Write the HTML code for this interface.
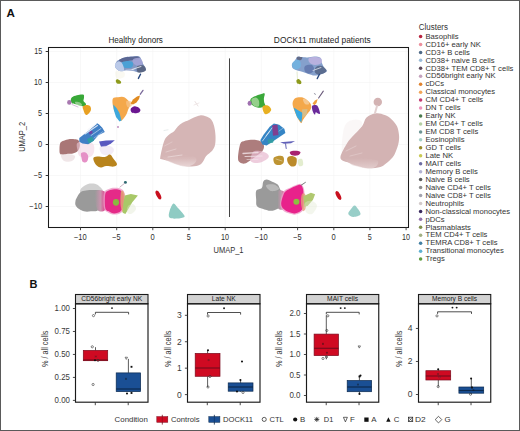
<!DOCTYPE html>
<html><head><meta charset="utf-8"><style>
html,body{margin:0;padding:0;background:#fff;}
svg{display:block;font-family:"Liberation Sans", sans-serif;}
</style></head><body>
<svg width="520" height="431" viewBox="0 0 520 431">
<defs><filter id="bl" x="-10%" y="-10%" width="120%" height="120%"><feGaussianBlur stdDeviation="0.45"/></filter>
<linearGradient id="gpL" gradientUnits="userSpaceOnUse" x1="95" y1="0" x2="106" y2="0"><stop offset="0" stop-color="#9a9a9a"/><stop offset="0.5" stop-color="#c994ae"/><stop offset="1" stop-color="#e03a8c"/></linearGradient>
<linearGradient id="gpR" gradientUnits="userSpaceOnUse" x1="277.5" y1="0" x2="286" y2="0"><stop offset="0" stop-color="#9a9a9a"/><stop offset="0.5" stop-color="#c994ae"/><stop offset="1" stop-color="#e03a8c"/></linearGradient>
<linearGradient id="nbL" gradientUnits="userSpaceOnUse" x1="0" y1="154" x2="0" y2="167"><stop offset="0" stop-color="#d5b5b5" stop-opacity="0"/><stop offset="0.55" stop-color="#e3cccc" stop-opacity="0.85"/><stop offset="1" stop-color="#efe3e3" stop-opacity="0.95"/></linearGradient>
<linearGradient id="nbR" gradientUnits="userSpaceOnUse" x1="0" y1="156" x2="0" y2="169"><stop offset="0" stop-color="#d3b3b3" stop-opacity="0"/><stop offset="0.55" stop-color="#e0c8c8" stop-opacity="0.8"/><stop offset="1" stop-color="#ecdede" stop-opacity="0.9"/></linearGradient>
</defs>
<rect x="0" y="0" width="520" height="431" fill="#fff"/>
<text x="6.6" y="16.5" font-size="11.6" fill="#111" text-anchor="start" font-weight="bold">A</text>
<line x1="80.5" y1="47.5" x2="80.5" y2="227" stroke="#f3f3f3" stroke-width="0.6"/>
<line x1="116.7" y1="47.5" x2="116.7" y2="227" stroke="#f3f3f3" stroke-width="0.6"/>
<line x1="152.8" y1="47.5" x2="152.8" y2="227" stroke="#f3f3f3" stroke-width="0.6"/>
<line x1="189.0" y1="47.5" x2="189.0" y2="227" stroke="#f3f3f3" stroke-width="0.6"/>
<line x1="225.2" y1="47.5" x2="225.2" y2="227" stroke="#f3f3f3" stroke-width="0.6"/>
<line x1="261.4" y1="47.5" x2="261.4" y2="227" stroke="#f3f3f3" stroke-width="0.6"/>
<line x1="297.6" y1="47.5" x2="297.6" y2="227" stroke="#f3f3f3" stroke-width="0.6"/>
<line x1="333.8" y1="47.5" x2="333.8" y2="227" stroke="#f3f3f3" stroke-width="0.6"/>
<line x1="369.9" y1="47.5" x2="369.9" y2="227" stroke="#f3f3f3" stroke-width="0.6"/>
<line x1="406.1" y1="47.5" x2="406.1" y2="227" stroke="#f3f3f3" stroke-width="0.6"/>
<line x1="48.5" y1="51.5" x2="408" y2="51.5" stroke="#f3f3f3" stroke-width="0.6"/>
<line x1="48.5" y1="82.5" x2="408" y2="82.5" stroke="#f3f3f3" stroke-width="0.6"/>
<line x1="48.5" y1="113.5" x2="408" y2="113.5" stroke="#f3f3f3" stroke-width="0.6"/>
<line x1="48.5" y1="144.5" x2="408" y2="144.5" stroke="#f3f3f3" stroke-width="0.6"/>
<line x1="48.5" y1="175.5" x2="408" y2="175.5" stroke="#f3f3f3" stroke-width="0.6"/>
<line x1="48.5" y1="206.5" x2="408" y2="206.5" stroke="#f3f3f3" stroke-width="0.6"/>
<g id="cl">
<path d="M160.2,158.1 C160.3,156.4 161.2,151.9 162.0,148.8 C162.8,145.7 163.7,141.8 164.8,139.5 C165.9,137.2 167.1,136.3 168.6,134.9 C170.1,133.5 172.6,132.6 174.1,131.2 C175.6,129.8 176.4,127.9 177.8,126.5 C179.2,125.1 180.6,123.9 182.5,122.8 C184.4,121.7 187.0,120.9 189.0,120.0 C191.0,119.1 192.7,118.1 194.5,117.3 C196.3,116.5 198.2,115.6 200.1,115.4 C202.0,115.2 203.8,115.6 205.7,116.3 C207.5,117.0 209.8,117.8 211.2,119.5 C212.6,121.2 213.5,123.8 214.2,126.5 C214.9,129.2 215.4,132.7 215.5,135.8 C215.6,138.9 215.6,142.6 215.0,145.1 C214.4,147.6 213.7,148.8 212.2,150.7 C210.7,152.5 207.6,154.3 206.0,156.2 C204.4,158.0 204.2,160.2 202.9,161.8 C201.6,163.4 200.8,164.7 198.2,165.5 C195.6,166.3 190.5,166.6 187.1,166.4 C183.7,166.2 180.9,165.5 177.8,164.6 C174.7,163.7 171.3,161.8 168.6,160.9 C165.9,160.0 162.9,159.7 161.5,159.2 C160.1,158.7 160.1,159.8 160.2,158.1 Z" fill="#d5b5b5" filter="url(#bl)"/>
<path d="M162.0,156.0 C163.2,154.8 170.3,154.1 175.0,154.0 C179.7,153.9 186.5,154.8 190.0,155.5 C193.5,156.2 195.2,156.8 196.0,158.0 C196.8,159.2 196.5,161.6 195.0,163.0 C193.5,164.4 190.0,166.4 187.1,166.7 C184.2,167.0 181.0,165.8 177.8,164.9 C174.6,164.0 170.6,162.7 168.0,161.2 C165.4,159.7 160.8,157.2 162.0,156.0 Z" fill="url(#nbL)" opacity="0.75" filter="url(#bl)"/>
<line x1="166" y1="152" x2="176" y2="149" stroke="#e6d2d2" stroke-width="0.9" stroke-linecap="round" opacity="0.8"/>
<line x1="164.5" y1="146" x2="172" y2="142" stroke="#e6d2d2" stroke-width="0.8" stroke-linecap="round" opacity="0.7"/>
<line x1="168" y1="157" x2="182" y2="155" stroke="#ecdcdc" stroke-width="0.9" stroke-linecap="round" opacity="0.8"/>
<line x1="195" y1="101.5" x2="198" y2="106" stroke="#e8dcdc" stroke-width="0.9" stroke-linecap="round"/>
<line x1="194" y1="105" x2="199" y2="103" stroke="#ece2e2" stroke-width="0.8" stroke-linecap="round"/>
<line x1="164" y1="130.5" x2="168" y2="129.8" stroke="#e4eaea" stroke-width="0.9" stroke-linecap="round"/>
<ellipse cx="158.4" cy="195.0" rx="2.0" ry="4.8" fill="#c80f1e" transform="rotate(-28 158.4 195.0)"/>
<path d="M173.4,203.6 C174.7,203.0 176.0,205.9 177.5,207.5 C179.0,209.1 181.3,211.4 182.5,213.0 C183.7,214.6 185.3,216.1 184.4,217.0 C183.5,217.9 179.5,218.5 177.0,218.6 C174.5,218.7 170.6,218.8 169.4,217.5 C168.2,216.2 168.9,213.3 169.6,211.0 C170.3,208.7 172.1,204.2 173.4,203.6 Z" fill="#8fcbc3" filter="url(#bl)"/>
<path d="M81.5,188.0 C82.7,186.6 85.8,184.7 88.0,184.0 C90.2,183.3 93.0,183.4 94.9,183.8 C96.8,184.2 98.2,185.3 99.5,186.5 C100.8,187.7 103.8,190.2 102.5,191.2 C101.2,192.2 95.6,192.3 92.0,192.5 C88.4,192.7 82.8,193.2 81.0,192.5 C79.2,191.8 80.3,189.4 81.5,188.0 Z" fill="#c6c6c6" opacity="0.8" filter="url(#bl)"/>
<path d="M75.5,200.9 C75.7,199.6 76.1,198.9 76.9,197.5 C77.7,196.1 78.9,193.4 80.4,192.2 C81.9,191.0 83.9,190.9 86.0,190.5 C88.1,190.1 90.7,190.0 93.0,190.0 C95.3,190.0 98.5,189.8 100.0,190.5 C101.5,191.2 102.1,190.9 101.9,194.0 C101.7,197.1 100.8,206.3 99.0,209.2 C97.2,212.1 93.3,211.0 90.8,211.3 C88.3,211.7 86.0,211.8 83.9,211.3 C81.8,210.8 79.7,209.5 78.3,208.5 C76.9,207.5 76.0,206.4 75.5,205.1 C75.0,203.8 75.3,202.2 75.5,200.9 Z" fill="#9a9a9a" filter="url(#bl)"/>
<path d="M95.3,191.0 C96.9,189.6 102.8,190.0 104.6,191.5 C106.4,193.0 105.9,196.9 106.0,200.0 C106.1,203.1 106.3,208.2 105.0,210.0 C103.7,211.8 99.7,212.2 98.0,210.5 C96.3,208.8 95.5,203.2 95.0,200.0 C94.5,196.8 93.7,192.4 95.3,191.0 Z" fill="url(#gpL)" filter="url(#bl)"/>
<path d="M104.0,193.0 C104.8,189.8 107.1,189.9 108.8,189.0 C110.5,188.1 112.3,187.9 114.3,187.8 C116.2,187.7 118.8,187.6 120.5,188.5 C122.2,189.4 123.8,190.2 124.5,193.0 C125.2,195.8 125.0,201.8 124.5,205.1 C124.0,208.3 123.2,210.9 121.5,212.5 C119.8,214.1 116.5,214.6 114.3,214.6 C112.0,214.6 109.7,213.6 108.0,212.5 C106.3,211.4 104.7,211.2 104.0,208.0 C103.3,204.8 103.2,196.2 104.0,193.0 Z" fill="#ee9cc8" opacity="0.8" filter="url(#bl)"/>
<path d="M105.3,194.0 C105.9,191.1 107.3,191.3 108.8,190.5 C110.3,189.7 112.4,189.3 114.3,189.2 C116.2,189.1 118.4,189.1 119.9,189.9 C121.4,190.7 122.7,191.5 123.3,194.0 C123.9,196.5 123.8,202.2 123.3,205.1 C122.8,208.0 122.1,209.9 120.6,211.3 C119.1,212.7 116.3,213.4 114.3,213.4 C112.3,213.4 110.3,212.2 108.8,211.3 C107.3,210.4 105.9,210.8 105.3,207.9 C104.7,205.0 104.7,196.9 105.3,194.0 Z" fill="#e52a88" filter="url(#bl)"/>
<path d="M121.2,191.0 C121.9,189.3 124.0,191.5 124.5,194.0 C125.0,196.5 124.8,203.0 124.5,206.0 C124.2,209.0 123.2,212.3 122.5,212.0 C121.8,211.7 120.7,207.5 120.5,204.0 C120.3,200.5 120.5,192.7 121.2,191.0 Z" fill="#e3a277" opacity="0.85" filter="url(#bl)"/>
<path d="M124.7,195.4 L130.9,194.0 L137.9,195.4 L132.3,202.3 L128.2,209.2 L125.4,214.1 L122.6,212.7 L123.3,203.7 Z" fill="#a8c868" filter="url(#bl)"/>
<path d="M128.0,206.0 C129.0,204.7 131.7,203.5 133.0,204.0 C134.3,204.5 136.3,207.3 136.0,209.0 C135.7,210.7 132.5,213.5 131.0,214.0 C129.5,214.5 127.5,213.3 127.0,212.0 C126.5,210.7 127.0,207.3 128.0,206.0 Z" fill="#dfe8cf" opacity="0.4" filter="url(#bl)"/>
<ellipse cx="116.0" cy="202.3" rx="3.1" ry="3.4" fill="#8ab840"/>
<ellipse cx="125.4" cy="182.4" rx="1.5" ry="1.3" fill="#2d6a72"/>
<line x1="120" y1="187" x2="124.5" y2="183.4" stroke="#b090a8" stroke-width="0.7" stroke-linecap="round"/>
<path d="M59.5,149.4 C59.5,147.7 59.6,145.0 60.1,143.6 C60.6,142.2 61.4,141.8 62.7,141.1 C64.0,140.4 65.9,139.7 67.8,139.4 C69.7,139.1 72.4,139.0 74.2,139.2 C76.0,139.4 77.6,139.3 78.6,140.4 C79.5,141.5 80.0,143.8 79.9,145.5 C79.8,147.2 79.2,149.4 78.0,150.7 C76.8,152.0 74.6,153.0 72.9,153.5 C71.2,154.0 69.3,153.6 67.8,153.8 C66.3,154.0 65.2,154.5 63.9,154.5 C62.6,154.5 60.8,154.7 60.1,153.8 C59.4,153.0 59.5,151.1 59.5,149.4 Z" fill="#a97676" filter="url(#bl)"/>
<path d="M61.0,155.0 C61.7,153.8 65.7,153.8 68.0,154.0 C70.3,154.2 74.3,154.8 75.0,156.0 C75.7,157.2 73.8,160.2 72.0,161.0 C70.2,161.8 65.8,162.0 64.0,161.0 C62.2,160.0 60.3,156.2 61.0,155.0 Z" fill="#dcc3c8" opacity="0.4" filter="url(#bl)"/>
<path d="M77.4,143.0 C78.8,141.6 83.3,141.5 86.0,141.7 C88.7,141.9 92.0,142.3 93.3,144.0 C94.6,145.7 94.5,149.8 94.0,152.0 C93.5,154.2 92.3,156.2 90.0,157.0 C87.7,157.8 82.1,157.7 80.0,156.5 C77.9,155.3 77.9,152.2 77.5,150.0 C77.1,147.8 76.0,144.4 77.4,143.0 Z" fill="#f2d2e2" opacity="0.55" filter="url(#bl)"/>
<path d="M81.2,153.0 C81.9,152.1 84.3,151.9 85.5,152.4 C86.7,152.9 88.0,154.5 88.2,156.0 C88.5,157.5 87.9,160.5 87.0,161.5 C86.1,162.5 83.9,162.7 83.0,162.1 C82.1,161.5 81.8,159.5 81.5,158.0 C81.2,156.5 80.5,153.9 81.2,153.0 Z" fill="#e590c6" filter="url(#bl)"/>
<path d="M79.3,137.9 L84.4,134.0 L90.8,128.9 L97.1,123.2 L99.1,124.5 L102.3,127.7 L104.8,132.1 L98.4,135.3 L93.3,141.1 L88.2,144.3 L82.5,143.6 L79.3,141.7 Z" fill="#3f7fc5" filter="url(#bl)"/>
<path d="M87.0,139.0 L92.0,136.5 L94.0,140.5 L89.0,143.5 Z" fill="#2fa19f" opacity="0.9" filter="url(#bl)"/>
<ellipse cx="90.8" cy="132.5" rx="2.0" ry="1.5" fill="#7a3aa0" transform="rotate(-35 90.8 132.5)" opacity="0.85"/>
<line x1="85" y1="134" x2="97.5" y2="125.5" stroke="#eaf0fa" stroke-width="1.1" stroke-linecap="round" opacity="0.85"/>
<line x1="88" y1="129.5" x2="96" y2="124" stroke="#f4f6fb" stroke-width="1.2" stroke-linecap="round" opacity="0.85"/>
<line x1="91" y1="135.5" x2="101" y2="128.5" stroke="#eaf0fa" stroke-width="0.8" stroke-linecap="round" opacity="0.7"/>
<line x1="94" y1="138" x2="103" y2="131.5" stroke="#eaf0fa" stroke-width="0.7" stroke-linecap="round" opacity="0.6"/>
<path d="M99.0,141.5 L106.0,140.5 L114.8,140.3 L111.0,143.5 L106.0,146.3 L101.0,146.8 Z" fill="#5858c0" filter="url(#bl)"/>
<path d="M100.0,147.0 C101.3,145.7 107.7,145.5 110.0,146.0 C112.3,146.5 114.0,148.5 114.0,150.0 C114.0,151.5 112.0,154.3 110.0,155.0 C108.0,155.7 103.7,155.3 102.0,154.0 C100.3,152.7 98.7,148.3 100.0,147.0 Z" fill="#e0d2ea" opacity="0.4" filter="url(#bl)"/>
<path d="M93.3,158.3 C93.5,156.9 95.2,156.6 97.1,156.4 C99.0,156.2 102.7,157.3 104.8,157.0 C106.9,156.7 108.5,154.3 109.9,154.5 C111.3,154.7 111.9,156.7 113.1,158.3 C114.3,159.9 116.9,162.7 117.0,164.1 C117.1,165.5 115.5,166.3 113.7,166.6 C111.9,166.9 108.2,165.8 106.1,166.0 C104.0,166.2 102.7,167.7 101.0,167.5 C99.3,167.3 97.2,166.2 95.9,164.7 C94.6,163.2 93.1,159.7 93.3,158.3 Z" fill="#b8841c" filter="url(#bl)"/>
<path d="M72.0,97.2 C73.0,96.3 75.0,95.7 76.9,95.2 C78.8,94.8 82.0,94.1 83.2,94.5 C84.4,94.9 84.0,96.6 84.0,97.7 C84.0,98.8 83.2,100.0 83.5,101.0 C83.8,102.0 85.8,103.1 86.0,104.0 C86.2,104.9 85.4,106.1 84.5,106.4 C83.6,106.7 81.9,106.1 80.6,105.8 C79.3,105.5 78.2,105.0 76.9,104.6 C75.6,104.2 73.5,104.3 72.5,103.6 C71.5,102.9 70.9,101.6 70.8,100.5 C70.7,99.4 71.0,98.1 72.0,97.2 Z" fill="#38a838" filter="url(#bl)"/>
<path d="M75.0,102.0 C75.5,101.6 78.8,101.9 80.0,102.5 C81.2,103.1 82.5,105.1 82.0,105.5 C81.5,105.9 78.2,105.6 77.0,105.0 C75.8,104.4 74.5,102.4 75.0,102.0 Z" fill="#c8e4c0" opacity="0.6" filter="url(#bl)"/>
<ellipse cx="69.3" cy="102.4" rx="2.2" ry="2.3" fill="#a878b0"/>
<line x1="72" y1="104.5" x2="78" y2="107" stroke="#d8c0dc" stroke-width="1.0" stroke-linecap="round"/>
<path d="M82.8,106.6 C83.4,105.7 86.0,105.0 87.3,105.1 C88.6,105.1 90.0,105.9 90.6,106.9 C91.1,107.9 91.1,109.7 90.6,111.0 C90.0,112.3 88.2,114.2 87.3,114.7 C86.4,115.2 85.6,114.7 85.0,114.0 C84.4,113.3 83.9,111.5 83.5,110.3 C83.1,109.1 82.2,107.5 82.8,106.6 Z" fill="#e8a020" filter="url(#bl)"/>
<path d="M118.6,60.1 C120.2,59.2 123.3,57.8 125.5,57.2 C127.7,56.6 129.7,56.6 132.0,56.5 C134.3,56.4 137.6,55.4 139.4,56.6 C141.2,57.8 141.8,61.4 142.9,63.6 C144.0,65.8 146.4,68.5 145.8,69.9 C145.2,71.4 141.5,72.1 139.4,72.3 C137.3,72.5 135.2,71.3 133.0,71.0 C130.8,70.7 128.2,70.5 126.0,70.5 C123.8,70.5 121.5,71.7 119.7,71.1 C117.9,70.5 115.7,68.4 115.1,67.0 C114.5,65.6 115.4,63.6 116.0,62.5 C116.6,61.4 117.0,61.0 118.6,60.1 Z" fill="#8398c4" filter="url(#bl)"/>
<path d="M119.0,60.0 C119.6,59.2 123.2,57.8 125.5,57.3 C127.8,56.8 130.8,56.8 133.0,56.7 C135.2,56.6 138.2,56.4 139.0,56.9 C139.8,57.4 139.5,58.9 138.0,59.5 C136.5,60.1 132.7,60.1 130.0,60.5 C127.3,60.9 123.8,62.1 122.0,62.0 C120.2,61.9 118.4,60.8 119.0,60.0 Z" fill="#56628e" opacity="0.9" filter="url(#bl)"/>
<path d="M133.0,59.5 C133.9,58.5 137.9,57.5 139.5,58.0 C141.1,58.5 142.7,61.2 142.8,62.5 C142.9,63.8 141.5,65.8 140.0,66.0 C138.5,66.2 135.2,65.1 134.0,64.0 C132.8,62.9 132.1,60.5 133.0,59.5 Z" fill="#a6a6d8" opacity="0.85" filter="url(#bl)"/>
<path d="M122.0,62.5 C122.8,61.4 127.2,60.9 129.0,61.0 C130.8,61.1 132.6,61.9 133.0,63.0 C133.4,64.1 133.0,66.8 131.5,67.5 C130.0,68.2 125.6,68.3 124.0,67.5 C122.4,66.7 121.2,63.6 122.0,62.5 Z" fill="#42a2d8" opacity="0.85" filter="url(#bl)"/>
<path d="M115.5,63.5 C116.1,62.5 117.8,61.4 119.0,61.5 C120.2,61.6 121.7,62.5 122.5,64.0 C123.3,65.5 124.5,69.3 124.0,70.5 C123.5,71.7 121.1,71.5 119.7,71.0 C118.3,70.5 116.2,68.8 115.5,67.5 C114.8,66.2 114.9,64.5 115.5,63.5 Z" fill="#c2d0ee" opacity="0.9" filter="url(#bl)"/>
<path d="M137.0,66.5 C138.0,65.4 142.0,64.9 143.5,65.5 C145.0,66.1 146.2,68.9 146.0,70.0 C145.8,71.1 143.4,72.0 142.0,72.3 C140.6,72.6 138.3,73.0 137.5,72.0 C136.7,71.0 136.0,67.6 137.0,66.5 Z" fill="#4f5a74" opacity="0.8" filter="url(#bl)"/>
<line x1="132" y1="69.5" x2="141" y2="66.5" stroke="#eef0f6" stroke-width="1.0" stroke-linecap="round" opacity="0.85"/>
<line x1="126" y1="70.2" x2="134" y2="69.8" stroke="#f0f2f8" stroke-width="0.9" stroke-linecap="round" opacity="0.7"/>
<path d="M115.5,71.5 C116.7,70.4 122.6,71.1 124.0,72.0 C125.4,72.9 125.2,75.9 124.0,77.0 C122.8,78.1 118.4,79.4 117.0,78.5 C115.6,77.6 114.3,72.6 115.5,71.5 Z" fill="#f2f0dc" opacity="0.35" filter="url(#bl)"/>
<line x1="138.4" y1="78.4" x2="140.5" y2="74.2" stroke="#2a4a80" stroke-width="1.4" stroke-linecap="round"/>
<path d="M115.8,80.5 C116.0,79.8 117.2,79.2 118.0,79.4 C118.8,79.6 120.5,80.8 120.9,81.5 C121.3,82.2 121.2,83.3 120.5,83.6 C119.8,83.9 117.8,83.9 117.0,83.4 C116.2,82.9 115.6,81.2 115.8,80.5 Z" fill="#8d9a1c" filter="url(#bl)"/>
<path d="M112.8,98.8 C113.6,97.0 116.0,97.4 118.0,97.2 C120.0,97.0 122.8,96.4 124.8,97.5 C126.8,98.6 129.5,101.7 130.0,103.8 C130.5,105.9 128.7,108.1 128.0,110.0 C127.3,111.9 127.1,113.5 125.9,115.3 C124.7,117.1 122.2,120.9 120.7,121.0 C119.2,121.1 118.2,118.2 117.0,116.0 C115.8,113.8 114.1,110.9 113.4,108.0 C112.7,105.1 112.0,100.6 112.8,98.8 Z" fill="#f4a84c" filter="url(#bl)"/>
<path d="M113.2,104.5 L116.5,108.0 L119.5,113.0 L121.5,120.5 L119.5,121.5 L116.0,117.0 L113.8,110.0 Z" fill="#3ea8dc" filter="url(#bl)"/>
<path d="M126.5,101.0 C127.2,100.4 130.1,100.8 131.0,101.5 C131.9,102.2 132.4,104.0 132.0,105.0 C131.6,106.0 129.4,107.5 128.5,107.5 C127.6,107.5 126.8,106.1 126.5,105.0 C126.2,103.9 125.8,101.6 126.5,101.0 Z" fill="#f7c48c" opacity="0.75" filter="url(#bl)"/>
<path d="M130.5,103.5 L133.0,99.5 L137.0,96.5 L140.0,95.5 L139.0,99.0 L136.5,102.5 L133.0,104.5 Z" fill="#e08a20" filter="url(#bl)"/>
<path d="M130.7,109.0 C130.9,108.1 132.3,107.3 133.0,106.8 C133.7,106.3 134.1,106.1 135.0,106.2 C135.9,106.3 137.6,106.9 138.5,107.5 C139.4,108.1 140.3,109.2 140.4,110.0 C140.5,110.8 139.9,111.9 139.0,112.4 C138.1,112.9 136.2,113.2 135.0,113.2 C133.8,113.2 132.2,113.0 131.5,112.3 C130.8,111.6 130.4,109.9 130.7,109.0 Z" fill="#6a1490" filter="url(#bl)"/>
<line x1="140.3" y1="94.2" x2="143" y2="90.4" stroke="#7a6a9a" stroke-width="1.3" stroke-linecap="round"/>
<ellipse cx="118" cy="127" rx="1.0" ry="1.0" fill="#c090c0"/>
</g>
<g id="cr">
<path d="M344.0,128.0 C345.7,122.3 349.0,121.0 352.0,120.0 C355.0,119.0 361.0,119.3 362.0,122.0 C363.0,124.7 360.0,131.3 358.0,136.0 C356.0,140.7 352.7,147.0 350.0,150.0 C347.3,153.0 343.0,157.7 342.0,154.0 C341.0,150.3 342.3,133.7 344.0,128.0 Z" fill="#efe2e2" opacity="0.25" filter="url(#bl)"/>
<path d="M366.5,117.6 C368.8,115.4 372.9,113.7 376.0,113.3 C379.1,112.9 382.2,114.0 384.8,115.0 C387.4,116.0 389.7,117.5 391.7,119.4 C393.7,121.3 395.8,123.7 397.0,126.3 C398.2,128.9 398.7,132.3 399.0,135.0 C399.3,137.7 399.1,140.0 398.6,142.7 C398.1,145.4 397.0,148.5 396.0,151.0 C395.0,153.5 394.2,155.4 392.5,157.5 C390.8,159.6 388.0,161.9 386.0,163.5 C384.0,165.1 383.3,166.1 380.4,166.9 C377.4,167.7 372.0,168.5 368.3,168.3 C364.6,168.2 361.1,166.9 358.0,166.0 C354.9,165.1 352.4,164.2 349.5,162.9 C346.6,161.6 341.1,161.2 340.5,158.2 C339.9,155.2 344.1,148.5 346.0,145.0 C347.9,141.5 349.3,140.1 352.0,137.0 C354.7,133.9 359.7,129.5 362.1,126.3 C364.5,123.1 364.2,119.8 366.5,117.6 Z" fill="#d3b3b3" filter="url(#bl)"/>
<path d="M342.0,156.0 C342.9,155.1 350.3,157.0 355.0,157.5 C359.7,158.0 366.2,158.4 370.0,159.0 C373.8,159.6 377.0,159.8 378.0,161.0 C379.0,162.2 377.6,165.2 376.0,166.5 C374.4,167.8 371.8,168.7 368.3,168.6 C364.8,168.5 358.1,166.9 355.0,166.0 C351.9,165.1 351.7,164.9 349.5,163.2 C347.3,161.5 341.1,156.9 342.0,156.0 Z" fill="url(#nbR)" opacity="0.7" filter="url(#bl)"/>
<line x1="346" y1="151" x2="356" y2="146" stroke="#e6d2d2" stroke-width="0.9" stroke-linecap="round" opacity="0.7"/>
<line x1="350" y1="156" x2="362" y2="153" stroke="#e6d2d2" stroke-width="0.8" stroke-linecap="round" opacity="0.7"/>
<ellipse cx="377.8" cy="102.0" rx="4.2" ry="4.3" fill="#d3b3b3"/>
<line x1="377" y1="106" x2="375" y2="113" stroke="#e2d0d0" stroke-width="2.0" stroke-linecap="round"/>
<ellipse cx="338.4" cy="195.5" rx="2.0" ry="4.8" fill="#c80f1e" transform="rotate(-28 338.4 195.5)"/>
<path d="M354.6,205.4 C355.8,205.4 357.0,207.5 358.0,209.0 C359.0,210.5 361.2,213.3 360.4,214.6 C359.6,215.9 355.4,217.1 353.4,217.0 C351.4,216.9 348.7,215.3 348.3,214.0 C347.9,212.7 349.9,210.4 351.0,209.0 C352.1,207.6 353.4,205.4 354.6,205.4 Z" fill="#98cec8" filter="url(#bl)"/>
<path d="M256.2,190.7 C257.1,188.7 260.6,189.4 261.8,187.9 C263.0,186.4 262.4,183.1 263.2,181.7 C264.0,180.3 265.1,179.6 266.6,179.6 C268.1,179.6 270.4,180.9 272.2,181.7 C274.0,182.5 276.3,183.1 277.7,184.5 C279.1,185.9 279.6,188.6 280.5,190.0 C281.4,191.4 282.6,190.5 283.2,192.8 C283.8,195.1 284.8,201.2 283.9,203.9 C283.0,206.6 279.9,207.5 277.7,208.7 C275.5,209.8 273.3,210.8 270.8,210.8 C268.3,210.8 264.8,209.5 262.5,208.7 C260.2,207.9 257.9,207.4 256.9,205.9 C255.8,204.4 256.3,202.2 256.2,199.7 C256.1,197.2 255.3,192.7 256.2,190.7 Z" fill="#9a9a9a" filter="url(#bl)"/>
<path d="M266.0,185.5 C266.5,184.4 271.8,183.9 274.0,184.5 C276.2,185.1 279.5,187.9 279.0,189.0 C278.5,190.1 273.2,191.6 271.0,191.0 C268.8,190.4 265.5,186.6 266.0,185.5 Z" fill="#cfcfcf" opacity="0.6" filter="url(#bl)"/>
<path d="M278.0,191.5 C279.2,189.1 283.8,190.6 285.0,192.5 C286.2,194.4 285.8,200.2 285.5,203.0 C285.2,205.8 284.3,208.8 283.0,209.5 C281.7,210.2 278.3,210.0 277.5,207.0 C276.7,204.0 276.8,193.9 278.0,191.5 Z" fill="url(#gpR)" filter="url(#bl)"/>
<path d="M283.5,191.5 C285.2,188.8 288.4,188.6 290.5,187.5 C292.6,186.4 294.2,185.6 296.0,185.0 C297.8,184.4 299.7,183.3 301.0,184.0 C302.3,184.7 303.4,186.4 304.0,189.0 C304.6,191.6 304.8,196.1 304.6,199.7 C304.4,203.3 304.5,207.9 303.0,210.4 C301.5,212.9 297.8,213.8 295.7,214.4 C293.6,215.0 292.2,214.4 290.2,213.8 C288.2,213.2 285.3,212.7 283.6,211.0 C281.9,209.3 280.2,207.2 280.2,203.9 C280.2,200.7 281.8,194.2 283.5,191.5 Z" fill="#ee9cc8" opacity="0.8" filter="url(#bl)"/>
<path d="M284.6,192.5 C286.2,189.9 288.6,189.6 290.5,188.5 C292.4,187.4 294.3,186.6 296.0,186.0 C297.7,185.4 299.3,184.5 300.5,185.0 C301.7,185.5 302.5,186.6 303.0,189.0 C303.5,191.4 303.7,196.3 303.5,199.7 C303.3,203.1 303.3,207.2 302.0,209.4 C300.7,211.7 297.7,212.7 295.7,213.2 C293.7,213.7 292.0,213.2 290.2,212.6 C288.4,212.0 286.1,211.2 284.6,209.8 C283.1,208.4 281.2,206.8 281.2,203.9 C281.2,201.0 283.1,195.1 284.6,192.5 Z" fill="#e8218b" filter="url(#bl)"/>
<path d="M302.0,194.0 C302.8,192.7 304.8,192.8 305.5,195.0 C306.2,197.2 306.4,204.3 306.0,207.0 C305.6,209.7 303.8,211.7 303.0,211.0 C302.2,210.3 301.2,205.8 301.0,203.0 C300.8,200.2 301.2,195.3 302.0,194.0 Z" fill="#e5a07c" opacity="0.8" filter="url(#bl)"/>
<path d="M303.3,196.2 L310.9,192.8 L315.1,194.2 L313.0,199.7 L308.2,205.2 L304.7,207.3 Z" fill="#b0c870" filter="url(#bl)"/>
<path d="M305.0,203.0 C306.0,201.2 310.0,200.5 312.0,201.0 C314.0,201.5 317.0,203.8 317.0,206.0 C317.0,208.2 313.8,213.0 312.0,214.0 C310.2,215.0 307.2,213.8 306.0,212.0 C304.8,210.2 304.0,204.8 305.0,203.0 Z" fill="#e2ead4" opacity="0.4" filter="url(#bl)"/>
<ellipse cx="296.4" cy="201.8" rx="3.0" ry="3.0" fill="#8cc040"/>
<line x1="301.2" y1="185.2" x2="305.4" y2="182.4" stroke="#555" stroke-width="0.8" stroke-linecap="round"/>
<path d="M238.0,158.0 C238.0,154.9 239.2,146.9 240.2,144.1 C241.2,141.3 242.4,141.7 244.2,141.0 C245.9,140.3 248.5,139.9 250.7,139.8 C252.9,139.7 255.3,139.8 257.2,140.2 C259.1,140.6 260.9,141.0 262.0,142.0 C263.1,143.0 263.9,144.6 264.0,146.1 C264.1,147.6 263.7,149.4 262.5,151.0 C261.3,152.6 258.9,154.0 257.0,155.5 C255.1,157.0 253.0,158.7 251.0,160.0 C249.0,161.3 246.8,163.1 245.0,163.5 C243.2,163.9 241.2,163.4 240.0,162.5 C238.8,161.6 238.0,161.1 238.0,158.0 Z" fill="#ad7d7d" filter="url(#bl)"/>
<path d="M253.0,152.0 C254.6,150.4 257.7,150.8 260.0,151.0 C262.3,151.2 265.6,152.4 267.0,153.5 C268.4,154.6 269.3,156.1 268.5,157.5 C267.7,158.9 264.2,161.1 262.0,162.0 C259.8,162.9 256.9,163.2 255.0,163.0 C253.1,162.8 250.8,162.3 250.5,160.5 C250.2,158.7 251.4,153.6 253.0,152.0 Z" fill="#e7b9cf" opacity="0.7" filter="url(#bl)"/>
<line x1="243" y1="153.5" x2="258" y2="152.5" stroke="#f3e6ea" stroke-width="1.3" stroke-linecap="round" opacity="0.8"/>
<line x1="245" y1="156.5" x2="262" y2="156" stroke="#f5eaee" stroke-width="1.1" stroke-linecap="round" opacity="0.75"/>
<line x1="247" y1="159.5" x2="258" y2="159.5" stroke="#f3e6ea" stroke-width="0.9" stroke-linecap="round" opacity="0.6"/>
<path d="M260.3,140.3 L263.4,135.1 L269.7,126.8 L273.9,123.6 L279.1,124.7 L284.3,128.8 L285.4,133.0 L279.1,137.2 L272.8,141.4 L266.6,145.5 L262.4,144.5 Z" fill="#3585c5" filter="url(#bl)"/>
<line x1="262.5" y1="141" x2="270" y2="131" stroke="#e8eef8" stroke-width="0.9" stroke-linecap="round" opacity="0.8"/>
<path d="M272.0,125.5 L277.5,124.5 L278.5,135.0 L273.0,135.8 Z" fill="#a0207a" opacity="0.7" filter="url(#bl)"/>
<path d="M267.7,139.5 L274.2,138.9 L273.0,142.8 L268.0,143.5 Z" fill="#30a0a0" opacity="0.85" filter="url(#bl)"/>
<line x1="266" y1="136" x2="272" y2="128" stroke="#e8eef8" stroke-width="0.9" stroke-linecap="round" opacity="0.8"/>
<line x1="279" y1="131" x2="284" y2="127.5" stroke="#e8eef8" stroke-width="0.7" stroke-linecap="round" opacity="0.6"/>
<path d="M280.1,142.2 L295.1,141.0 L291.0,143.2 L284.0,143.8 Z" fill="#6060b8" filter="url(#bl)"/>
<line x1="285.5" y1="143.5" x2="286.2" y2="148.5" stroke="#7070b8" stroke-width="1.1" stroke-linecap="round"/>
<path d="M273.6,158.0 C274.2,156.7 276.4,156.1 278.0,155.9 C279.6,155.7 282.5,155.8 283.4,157.0 C284.3,158.2 284.1,161.7 283.4,163.0 C282.7,164.3 280.5,165.0 279.0,165.1 C277.5,165.2 275.4,164.7 274.5,163.5 C273.6,162.3 273.0,159.3 273.6,158.0 Z" fill="#bd9430" filter="url(#bl)"/>
<path d="M287.3,158.0 C287.8,156.8 289.5,155.9 291.0,155.9 C292.5,155.9 295.6,156.5 296.4,158.0 C297.2,159.5 296.8,163.6 296.0,165.0 C295.2,166.4 292.8,166.7 291.5,166.4 C290.2,166.1 288.7,164.4 288.0,163.0 C287.3,161.6 286.8,159.2 287.3,158.0 Z" fill="#bb8a2c" filter="url(#bl)"/>
<line x1="276" y1="159" x2="282" y2="161" stroke="#efe6d0" stroke-width="0.8" stroke-linecap="round" opacity="0.6"/>
<path d="M289.9,152.0 C290.4,151.2 293.2,150.7 295.0,150.7 C296.8,150.7 299.9,151.2 300.4,152.0 C300.9,152.8 299.4,154.8 298.0,155.3 C296.6,155.9 293.4,155.9 292.0,155.3 C290.6,154.8 289.4,152.8 289.9,152.0 Z" fill="#a82070" filter="url(#bl)"/>
<path d="M298.0,160.0 C298.5,158.8 301.2,158.2 302.0,159.0 C302.8,159.8 303.5,163.8 303.0,165.0 C302.5,166.2 299.8,166.8 299.0,166.0 C298.2,165.2 297.5,161.2 298.0,160.0 Z" fill="#c8dca0" opacity="0.5" filter="url(#bl)"/>
<path d="M251.0,98.5 C252.1,97.2 255.2,96.1 256.8,95.4 C258.4,94.7 259.3,94.6 260.6,94.3 C261.9,94.0 264.1,92.9 264.6,93.6 C265.2,94.3 263.9,96.9 263.9,98.4 C263.8,99.9 264.0,101.5 264.3,102.8 C264.6,104.1 266.0,105.7 265.5,106.5 C265.0,107.3 262.6,107.3 261.3,107.5 C260.0,107.7 258.8,107.8 257.5,107.5 C256.2,107.2 254.7,106.8 253.5,106.0 C252.3,105.2 250.9,104.2 250.5,103.0 C250.1,101.8 249.9,99.8 251.0,98.5 Z" fill="#3aa83a" filter="url(#bl)"/>
<path d="M251.5,99.5 C251.9,98.2 254.8,97.2 256.0,97.5 C257.2,97.8 258.6,99.5 259.0,101.0 C259.4,102.5 259.4,105.8 258.5,106.5 C257.6,107.2 254.7,106.7 253.5,105.5 C252.3,104.3 251.1,100.8 251.5,99.5 Z" fill="#b4dca6" opacity="0.75" filter="url(#bl)"/>
<ellipse cx="249.6" cy="103.2" rx="2.0" ry="2.5" fill="#a070b0"/>
<path d="M262.8,106.2 C263.5,105.3 265.9,105.0 267.2,105.2 C268.5,105.5 269.8,106.8 270.4,107.7 C271.0,108.6 271.4,109.5 271.0,110.5 C270.6,111.5 269.0,113.0 268.0,113.6 C267.0,114.2 265.8,114.5 265.0,114.0 C264.2,113.5 263.4,111.8 263.0,110.5 C262.6,109.2 262.1,107.1 262.8,106.2 Z" fill="#e8b020" filter="url(#bl)"/>
<path d="M292.0,64.1 C292.3,63.1 293.2,62.7 294.2,61.5 C295.1,60.3 296.5,57.5 297.7,56.8 C298.9,56.1 299.6,57.0 301.2,57.1 C302.8,57.2 305.2,57.6 307.4,57.5 C309.6,57.4 312.3,56.5 314.5,56.6 C316.7,56.7 319.4,56.8 320.7,57.9 C321.9,59.0 321.4,61.6 322.0,63.2 C322.6,64.8 323.4,66.4 324.2,67.7 C325.0,69.0 327.5,70.0 326.8,71.2 C326.1,72.4 321.9,74.0 319.8,74.7 C317.8,75.4 316.0,75.6 314.5,75.6 C313.0,75.6 312.5,75.2 311.0,74.7 C309.5,74.2 307.5,73.5 305.7,72.9 C303.9,72.3 302.0,71.7 300.4,71.2 C298.8,70.7 297.2,70.5 295.9,69.9 C294.6,69.3 293.0,68.7 292.4,67.7 C291.8,66.7 291.7,65.1 292.0,64.1 Z" fill="#85a0cc" filter="url(#bl)"/>
<path d="M297.0,57.0 C297.8,56.5 301.3,56.8 302.0,57.3 C302.7,57.8 301.8,59.5 301.0,60.0 C300.2,60.5 298.2,60.5 297.5,60.0 C296.8,59.5 296.2,57.5 297.0,57.0 Z" fill="#5a5f78" opacity="0.8" filter="url(#bl)"/>
<path d="M292.5,63.0 C293.1,61.8 294.8,60.3 296.0,60.0 C297.2,59.7 299.2,59.8 300.0,61.0 C300.8,62.2 301.2,65.6 300.5,67.0 C299.8,68.4 297.3,69.5 296.0,69.5 C294.7,69.5 293.1,68.1 292.5,67.0 C291.9,65.9 291.9,64.2 292.5,63.0 Z" fill="#72b4e2" opacity="0.85" filter="url(#bl)"/>
<path d="M309.0,58.0 C310.1,57.1 314.0,56.9 316.0,57.0 C318.0,57.1 320.1,57.5 321.0,58.5 C321.9,59.5 322.5,61.9 321.5,63.0 C320.5,64.1 317.0,65.1 315.0,65.0 C313.0,64.9 310.5,63.7 309.5,62.5 C308.5,61.3 307.9,58.9 309.0,58.0 Z" fill="#c2b4e2" opacity="0.85" filter="url(#bl)"/>
<path d="M305.0,66.0 C306.2,64.9 310.5,64.3 312.0,65.0 C313.5,65.7 314.3,68.6 314.0,70.0 C313.7,71.4 311.5,73.2 310.0,73.5 C308.5,73.8 305.8,72.8 305.0,71.5 C304.2,70.2 303.8,67.1 305.0,66.0 Z" fill="#5a6ea6" opacity="0.7" filter="url(#bl)"/>
<path d="M316.0,67.0 C317.2,65.9 320.2,65.3 322.0,66.0 C323.8,66.7 326.8,69.6 326.5,71.0 C326.2,72.4 321.9,74.2 320.0,74.5 C318.1,74.8 315.7,73.8 315.0,72.5 C314.3,71.2 314.8,68.1 316.0,67.0 Z" fill="#4d5b7c" opacity="0.75" filter="url(#bl)"/>
<line x1="313" y1="70.5" x2="321" y2="67.5" stroke="#eef0f6" stroke-width="0.9" stroke-linecap="round" opacity="0.8"/>
<line x1="317.2" y1="78.6" x2="319.4" y2="74.4" stroke="#2a4a80" stroke-width="1.3" stroke-linecap="round"/>
<line x1="297" y1="72" x2="297.5" y2="79" stroke="#dfe8c8" stroke-width="1.0" stroke-linecap="round" opacity="0.8"/>
<path d="M296.4,80.5 C296.6,79.8 297.7,78.9 298.5,79.1 C299.3,79.3 300.8,80.7 301.2,81.5 C301.6,82.3 301.4,83.7 300.8,84.0 C300.2,84.3 298.1,84.2 297.4,83.6 C296.7,83.0 296.2,81.2 296.4,80.5 Z" fill="#8d9a1c" filter="url(#bl)"/>
<path d="M293.6,99.9 C294.4,98.7 295.8,98.0 297.3,97.6 C298.8,97.2 301.0,97.0 302.8,97.6 C304.6,98.2 307.0,100.0 308.4,101.3 C309.8,102.6 310.9,104.0 311.2,105.5 C311.5,107.0 311.1,108.5 310.3,110.1 C309.5,111.6 307.9,113.1 306.6,114.8 C305.4,116.5 303.7,118.9 302.8,120.3 C301.9,121.7 301.9,123.6 301.0,123.1 C300.1,122.6 298.4,119.5 297.3,117.5 C296.2,115.5 295.3,113.2 294.5,111.0 C293.7,108.8 292.8,106.4 292.6,104.6 C292.5,102.8 292.8,101.1 293.6,99.9 Z" fill="#f4a84c" filter="url(#bl)"/>
<path d="M303.0,99.0 C303.4,98.4 306.5,99.7 307.5,100.5 C308.5,101.3 309.4,103.4 309.0,104.0 C308.6,104.6 306.0,104.8 305.0,104.0 C304.0,103.2 302.6,99.6 303.0,99.0 Z" fill="#f6cfa0" opacity="0.8" filter="url(#bl)"/>
<path d="M293.6,107.5 L302.8,112.9 L301.3,122.4 L297.0,117.0 Z" fill="#38a8e0" filter="url(#bl)"/>
<path d="M302.0,109.5 L307.5,109.0 L306.6,114.8 L302.5,118.0 Z" fill="#d6c08e" opacity="0.9" filter="url(#bl)"/>
<path d="M312.1,106.0 C312.6,105.0 314.8,104.8 315.8,105.0 C316.8,105.2 317.4,105.6 318.1,106.9 C318.8,108.2 319.9,111.8 320.0,112.9 C320.1,114.1 319.3,113.9 318.6,113.8 C317.9,113.7 316.4,112.1 315.8,112.3 C315.2,112.5 315.4,115.0 314.9,114.8 C314.4,114.6 313.1,112.5 312.6,111.0 C312.1,109.5 311.6,107.0 312.1,106.0 Z" fill="#6a2a9a" filter="url(#bl)"/>
<path d="M312.5,103.5 L315.0,100.5 L317.7,99.0 L316.5,103.0 L314.5,105.2 Z" fill="#f0a040" filter="url(#bl)"/>
<line x1="318.6" y1="98" x2="323.3" y2="91.1" stroke="#6a5a7a" stroke-width="1.1" stroke-linecap="round"/>
<line x1="314.3" y1="93.6" x2="315.5" y2="94.3" stroke="#8a8a9a" stroke-width="0.9" stroke-linecap="round"/>
</g>
<rect x="48.5" y="47.5" width="360" height="180" fill="none" stroke="#1a1a1a" stroke-width="1.05"/>
<line x1="229.5" y1="58.4" x2="229.5" y2="217" stroke="#444" stroke-width="1.0"/>
<text x="135.7" y="42.6" font-size="8.4" fill="#262626" text-anchor="middle" font-weight="normal" textLength="54.5" lengthAdjust="spacingAndGlyphs">Healthy donors</text>
<text x="322.3" y="42.6" font-size="8.4" fill="#262626" text-anchor="middle" font-weight="normal" textLength="96.9" lengthAdjust="spacingAndGlyphs">DOCK11 mutated patients</text>
<line x1="45.7" y1="51.5" x2="48.5" y2="51.5" stroke="#333" stroke-width="1.0"/>
<text x="42.1" y="53.70" font-size="8.5" fill="#2e2e2e" text-anchor="end" font-weight="normal" textLength="7.9" lengthAdjust="spacingAndGlyphs">15</text>
<line x1="45.7" y1="82.5" x2="48.5" y2="82.5" stroke="#333" stroke-width="1.0"/>
<text x="42.1" y="84.70" font-size="8.5" fill="#2e2e2e" text-anchor="end" font-weight="normal" textLength="8.0" lengthAdjust="spacingAndGlyphs">10</text>
<line x1="45.7" y1="113.5" x2="48.5" y2="113.5" stroke="#333" stroke-width="1.0"/>
<text x="42.1" y="115.70" font-size="8.5" fill="#2e2e2e" text-anchor="end" font-weight="normal" textLength="4.0" lengthAdjust="spacingAndGlyphs">5</text>
<line x1="45.7" y1="144.5" x2="48.5" y2="144.5" stroke="#333" stroke-width="1.0"/>
<text x="42.1" y="146.70" font-size="8.5" fill="#2e2e2e" text-anchor="end" font-weight="normal" textLength="4.2" lengthAdjust="spacingAndGlyphs">0</text>
<line x1="45.7" y1="175.5" x2="48.5" y2="175.5" stroke="#333" stroke-width="1.0"/>
<text x="42.1" y="177.70" font-size="8.5" fill="#2e2e2e" text-anchor="end" font-weight="normal" textLength="8.4" lengthAdjust="spacingAndGlyphs">−5</text>
<line x1="45.7" y1="206.5" x2="48.5" y2="206.5" stroke="#333" stroke-width="1.0"/>
<text x="42.1" y="208.70" font-size="8.5" fill="#2e2e2e" text-anchor="end" font-weight="normal" textLength="12.8" lengthAdjust="spacingAndGlyphs">−10</text>
<line x1="80.5" y1="227" x2="80.5" y2="230.2" stroke="#333" stroke-width="0.9"/>
<text x="80.3" y="240.1" font-size="8.5" fill="#2e2e2e" text-anchor="middle" font-weight="normal" textLength="12.8" lengthAdjust="spacingAndGlyphs">−10</text>
<line x1="116.7" y1="227" x2="116.7" y2="230.2" stroke="#333" stroke-width="0.9"/>
<text x="116.5" y="240.1" font-size="8.5" fill="#2e2e2e" text-anchor="middle" font-weight="normal" textLength="8.4" lengthAdjust="spacingAndGlyphs">−5</text>
<line x1="152.8" y1="227" x2="152.8" y2="230.2" stroke="#333" stroke-width="0.9"/>
<text x="152.60000000000002" y="240.1" font-size="8.5" fill="#2e2e2e" text-anchor="middle" font-weight="normal" textLength="4.2" lengthAdjust="spacingAndGlyphs">0</text>
<line x1="189.0" y1="227" x2="189.0" y2="230.2" stroke="#333" stroke-width="0.9"/>
<text x="188.8" y="240.1" font-size="8.5" fill="#2e2e2e" text-anchor="middle" font-weight="normal" textLength="4.0" lengthAdjust="spacingAndGlyphs">5</text>
<line x1="225.2" y1="227" x2="225.2" y2="230.2" stroke="#333" stroke-width="0.9"/>
<text x="225.0" y="240.1" font-size="8.5" fill="#2e2e2e" text-anchor="middle" font-weight="normal" textLength="8.0" lengthAdjust="spacingAndGlyphs">10</text>
<line x1="261.4" y1="227" x2="261.4" y2="230.2" stroke="#333" stroke-width="0.9"/>
<text x="261.2" y="240.1" font-size="8.5" fill="#2e2e2e" text-anchor="middle" font-weight="normal" textLength="12.8" lengthAdjust="spacingAndGlyphs">−10</text>
<line x1="297.6" y1="227" x2="297.6" y2="230.2" stroke="#333" stroke-width="0.9"/>
<text x="297.40000000000003" y="240.1" font-size="8.5" fill="#2e2e2e" text-anchor="middle" font-weight="normal" textLength="8.4" lengthAdjust="spacingAndGlyphs">−5</text>
<line x1="333.8" y1="227" x2="333.8" y2="230.2" stroke="#333" stroke-width="0.9"/>
<text x="333.6" y="240.1" font-size="8.5" fill="#2e2e2e" text-anchor="middle" font-weight="normal" textLength="4.2" lengthAdjust="spacingAndGlyphs">0</text>
<line x1="369.9" y1="227" x2="369.9" y2="230.2" stroke="#333" stroke-width="0.9"/>
<text x="369.7" y="240.1" font-size="8.5" fill="#2e2e2e" text-anchor="middle" font-weight="normal" textLength="4.0" lengthAdjust="spacingAndGlyphs">5</text>
<line x1="406.1" y1="227" x2="406.1" y2="230.2" stroke="#333" stroke-width="0.9"/>
<text x="405.90000000000003" y="240.1" font-size="8.5" fill="#2e2e2e" text-anchor="middle" font-weight="normal" textLength="8.0" lengthAdjust="spacingAndGlyphs">10</text>
<text x="228.5" y="253.3" font-size="8.4" fill="#333" text-anchor="middle" font-weight="normal" textLength="30" lengthAdjust="spacingAndGlyphs">UMAP_1</text>
<text x="0" y="0" font-size="8.4" fill="#333" text-anchor="middle" textLength="30" lengthAdjust="spacingAndGlyphs" transform="translate(24.6,136.8) rotate(-90)">UMAP_2</text>
<text x="418.8" y="29.5" font-size="8.3" fill="#333" text-anchor="start" font-weight="normal" textLength="29.2" lengthAdjust="spacingAndGlyphs">Clusters</text>
<circle cx="420.6" cy="36.50" r="1.75" fill="#b8243f"/>
<text x="425.5" y="38.70" font-size="7.65" fill="#333" text-anchor="start" font-weight="normal">Basophils</text>
<circle cx="420.6" cy="44.45" r="1.75" fill="#ec8f9c"/>
<text x="425.5" y="46.65" font-size="7.65" fill="#333" text-anchor="start" font-weight="normal">CD16+ early NK</text>
<circle cx="420.6" cy="52.40" r="1.75" fill="#4f6a87"/>
<text x="425.5" y="54.60" font-size="7.65" fill="#333" text-anchor="start" font-weight="normal">CD3+ B cells</text>
<circle cx="420.6" cy="60.35" r="1.75" fill="#9cbcd8"/>
<text x="425.5" y="62.55" font-size="7.65" fill="#333" text-anchor="start" font-weight="normal">CD38+ naive B cells</text>
<circle cx="420.6" cy="68.30" r="1.75" fill="#5e4a5a"/>
<text x="425.5" y="70.50" font-size="7.65" fill="#333" text-anchor="start" font-weight="normal">CD38+ TEM CD8+ T cells</text>
<circle cx="420.6" cy="76.25" r="1.75" fill="#c4a2bd"/>
<text x="425.5" y="78.45" font-size="7.65" fill="#333" text-anchor="start" font-weight="normal">CD56bright early NK</text>
<circle cx="420.6" cy="84.20" r="1.75" fill="#e0822e"/>
<text x="425.5" y="86.40" font-size="7.65" fill="#333" text-anchor="start" font-weight="normal">cDCs</text>
<circle cx="420.6" cy="92.15" r="1.75" fill="#f2a65a"/>
<text x="425.5" y="94.35" font-size="7.65" fill="#333" text-anchor="start" font-weight="normal">Classical monocytes</text>
<circle cx="420.6" cy="100.10" r="1.75" fill="#c43c72"/>
<text x="425.5" y="102.30" font-size="7.65" fill="#333" text-anchor="start" font-weight="normal">CM CD4+ T cells</text>
<circle cx="420.6" cy="108.05" r="1.75" fill="#ec94bc"/>
<text x="425.5" y="110.25" font-size="7.65" fill="#333" text-anchor="start" font-weight="normal">DN T cells</text>
<circle cx="420.6" cy="116.00" r="1.75" fill="#4b7a4f"/>
<text x="425.5" y="118.20" font-size="7.65" fill="#333" text-anchor="start" font-weight="normal">Early NK</text>
<circle cx="420.6" cy="123.95" r="1.75" fill="#b5d0a5"/>
<text x="425.5" y="126.15" font-size="7.65" fill="#333" text-anchor="start" font-weight="normal">EM CD4+ T cells</text>
<circle cx="420.6" cy="131.90" r="1.75" fill="#6f9595"/>
<text x="425.5" y="134.10" font-size="7.65" fill="#333" text-anchor="start" font-weight="normal">EM CD8 T cells</text>
<circle cx="420.6" cy="139.85" r="1.75" fill="#a6cfc7"/>
<text x="425.5" y="142.05" font-size="7.65" fill="#333" text-anchor="start" font-weight="normal">Eosinophils</text>
<circle cx="420.6" cy="147.80" r="1.75" fill="#978b2d"/>
<text x="425.5" y="150.00" font-size="7.65" fill="#333" text-anchor="start" font-weight="normal">GD T cells</text>
<circle cx="420.6" cy="155.75" r="1.75" fill="#c9c955"/>
<text x="425.5" y="157.95" font-size="7.65" fill="#333" text-anchor="start" font-weight="normal">Late NK</text>
<circle cx="420.6" cy="163.70" r="1.75" fill="#6e6ea2"/>
<text x="425.5" y="165.90" font-size="7.65" fill="#333" text-anchor="start" font-weight="normal">MAIT cells</text>
<circle cx="420.6" cy="171.65" r="1.75" fill="#b3b3d3"/>
<text x="425.5" y="173.85" font-size="7.65" fill="#333" text-anchor="start" font-weight="normal">Memory B cells</text>
<circle cx="420.6" cy="179.60" r="1.75" fill="#5c5c5c"/>
<text x="425.5" y="181.80" font-size="7.65" fill="#333" text-anchor="start" font-weight="normal">Naive B cells</text>
<circle cx="420.6" cy="187.55" r="1.75" fill="#8e8e8e"/>
<text x="425.5" y="189.75" font-size="7.65" fill="#333" text-anchor="start" font-weight="normal">Naive CD4+ T cells</text>
<circle cx="420.6" cy="195.50" r="1.75" fill="#a3a3ae"/>
<text x="425.5" y="197.70" font-size="7.65" fill="#333" text-anchor="start" font-weight="normal">Naive CD8+ T cells</text>
<circle cx="420.6" cy="203.45" r="1.75" fill="#d3cbcb"/>
<text x="425.5" y="205.65" font-size="7.65" fill="#333" text-anchor="start" font-weight="normal">Neutrophils</text>
<circle cx="420.6" cy="211.40" r="1.75" fill="#3a2a5e"/>
<text x="425.5" y="213.60" font-size="7.65" fill="#333" text-anchor="start" font-weight="normal">Non-classical monocytes</text>
<circle cx="420.6" cy="219.35" r="1.75" fill="#9272aa"/>
<text x="425.5" y="221.55" font-size="7.65" fill="#333" text-anchor="start" font-weight="normal">pDCs</text>
<circle cx="420.6" cy="227.30" r="1.75" fill="#7f8f4e"/>
<text x="425.5" y="229.50" font-size="7.65" fill="#333" text-anchor="start" font-weight="normal">Plasmablasts</text>
<circle cx="420.6" cy="235.25" r="1.75" fill="#a2b083"/>
<text x="425.5" y="237.45" font-size="7.65" fill="#333" text-anchor="start" font-weight="normal">TEM CD4+ T cells</text>
<circle cx="420.6" cy="243.20" r="1.75" fill="#4380a3"/>
<text x="425.5" y="245.40" font-size="7.65" fill="#333" text-anchor="start" font-weight="normal">TEMRA CD8+ T cells</text>
<circle cx="420.6" cy="251.15" r="1.75" fill="#5fb1d2"/>
<text x="425.5" y="253.35" font-size="7.65" fill="#333" text-anchor="start" font-weight="normal">Transitional monocytes</text>
<circle cx="420.6" cy="259.10" r="1.75" fill="#5f9d41"/>
<text x="425.5" y="261.30" font-size="7.65" fill="#333" text-anchor="start" font-weight="normal">Tregs</text>
<text x="29.4" y="288.2" font-size="11.0" fill="#111" text-anchor="start" font-weight="bold">B</text>
<rect x="75.5" y="294.5" width="72.50" height="9.30" fill="#d2d2d2" stroke="#1a1a1a" stroke-width="1.1"/>
<text x="111.75" y="301.4" font-size="6.6" fill="#1a1a1a" text-anchor="middle" font-weight="normal" textLength="61" lengthAdjust="spacingAndGlyphs">CD56bright early NK</text>
<rect x="75.5" y="303.8" width="72.50" height="98.40" fill="none" stroke="#1a1a1a" stroke-width="1.15"/>
<line x1="72.9" y1="308.50" x2="75.5" y2="308.50" stroke="#333" stroke-width="0.9"/>
<text x="69.9" y="311.40" font-size="8.5" fill="#3a3a3a" text-anchor="end" font-weight="normal" textLength="15.3" lengthAdjust="spacingAndGlyphs">1.00</text>
<line x1="72.9" y1="331.47" x2="75.5" y2="331.47" stroke="#333" stroke-width="0.9"/>
<text x="69.9" y="334.37" font-size="8.5" fill="#3a3a3a" text-anchor="end" font-weight="normal" textLength="15.3" lengthAdjust="spacingAndGlyphs">0.75</text>
<line x1="72.9" y1="354.45" x2="75.5" y2="354.45" stroke="#333" stroke-width="0.9"/>
<text x="69.9" y="357.35" font-size="8.5" fill="#3a3a3a" text-anchor="end" font-weight="normal" textLength="15.3" lengthAdjust="spacingAndGlyphs">0.50</text>
<line x1="72.9" y1="377.42" x2="75.5" y2="377.42" stroke="#333" stroke-width="0.9"/>
<text x="69.9" y="380.32" font-size="8.5" fill="#3a3a3a" text-anchor="end" font-weight="normal" textLength="15.3" lengthAdjust="spacingAndGlyphs">0.25</text>
<line x1="72.9" y1="400.40" x2="75.5" y2="400.40" stroke="#333" stroke-width="0.9"/>
<text x="69.9" y="403.30" font-size="8.5" fill="#3a3a3a" text-anchor="end" font-weight="normal" textLength="15.3" lengthAdjust="spacingAndGlyphs">0.00</text>
<line x1="95.29" y1="402.2" x2="95.29" y2="405.2" stroke="#333" stroke-width="0.9"/>
<line x1="128.21" y1="402.2" x2="128.21" y2="405.2" stroke="#333" stroke-width="0.9"/>
<text x="0" y="0" font-size="9.0" fill="#3a3a3a" text-anchor="middle" textLength="36.6" lengthAdjust="spacingAndGlyphs" transform="translate(48.40,348.8) rotate(-90)">% / all cells</text>
<rect x="187.5" y="294.5" width="72.50" height="9.30" fill="#d2d2d2" stroke="#1a1a1a" stroke-width="1.1"/>
<text x="223.75" y="301.4" font-size="6.6" fill="#1a1a1a" text-anchor="middle" font-weight="normal" textLength="24" lengthAdjust="spacingAndGlyphs">Late NK</text>
<rect x="187.5" y="303.8" width="72.50" height="98.40" fill="none" stroke="#1a1a1a" stroke-width="1.15"/>
<line x1="184.9" y1="315.31" x2="187.5" y2="315.31" stroke="#333" stroke-width="0.9"/>
<text x="181.8" y="318.21" font-size="8.5" fill="#3a3a3a" text-anchor="end" font-weight="normal">3</text>
<line x1="184.9" y1="341.74" x2="187.5" y2="341.74" stroke="#333" stroke-width="0.9"/>
<text x="181.8" y="344.64" font-size="8.5" fill="#3a3a3a" text-anchor="end" font-weight="normal">2</text>
<line x1="184.9" y1="368.17" x2="187.5" y2="368.17" stroke="#333" stroke-width="0.9"/>
<text x="181.8" y="371.07" font-size="8.5" fill="#3a3a3a" text-anchor="end" font-weight="normal">1</text>
<line x1="184.9" y1="394.60" x2="187.5" y2="394.60" stroke="#333" stroke-width="0.9"/>
<text x="181.8" y="397.50" font-size="8.5" fill="#3a3a3a" text-anchor="end" font-weight="normal">0</text>
<line x1="207.29" y1="402.2" x2="207.29" y2="405.2" stroke="#333" stroke-width="0.9"/>
<line x1="240.21" y1="402.2" x2="240.21" y2="405.2" stroke="#333" stroke-width="0.9"/>
<text x="0" y="0" font-size="9.0" fill="#3a3a3a" text-anchor="middle" textLength="36.6" lengthAdjust="spacingAndGlyphs" transform="translate(171.30,348.8) rotate(-90)">% / all cells</text>
<rect x="306.5" y="294.5" width="72.25" height="9.30" fill="#d2d2d2" stroke="#1a1a1a" stroke-width="1.1"/>
<text x="342.62" y="301.4" font-size="6.6" fill="#1a1a1a" text-anchor="middle" font-weight="normal" textLength="31" lengthAdjust="spacingAndGlyphs">MAIT cells</text>
<rect x="306.5" y="303.8" width="72.25" height="98.40" fill="none" stroke="#1a1a1a" stroke-width="1.15"/>
<line x1="303.9" y1="313.50" x2="306.5" y2="313.50" stroke="#333" stroke-width="0.9"/>
<text x="300.5" y="316.40" font-size="8.5" fill="#3a3a3a" text-anchor="end" font-weight="normal" textLength="11.1" lengthAdjust="spacingAndGlyphs">2.0</text>
<line x1="303.9" y1="334.00" x2="306.5" y2="334.00" stroke="#333" stroke-width="0.9"/>
<text x="300.5" y="336.90" font-size="8.5" fill="#3a3a3a" text-anchor="end" font-weight="normal" textLength="11.1" lengthAdjust="spacingAndGlyphs">1.5</text>
<line x1="303.9" y1="354.50" x2="306.5" y2="354.50" stroke="#333" stroke-width="0.9"/>
<text x="300.5" y="357.40" font-size="8.5" fill="#3a3a3a" text-anchor="end" font-weight="normal" textLength="11.1" lengthAdjust="spacingAndGlyphs">1.0</text>
<line x1="303.9" y1="375.00" x2="306.5" y2="375.00" stroke="#333" stroke-width="0.9"/>
<text x="300.5" y="377.90" font-size="8.5" fill="#3a3a3a" text-anchor="end" font-weight="normal" textLength="11.1" lengthAdjust="spacingAndGlyphs">0.5</text>
<line x1="303.9" y1="395.50" x2="306.5" y2="395.50" stroke="#333" stroke-width="0.9"/>
<text x="300.5" y="398.40" font-size="8.5" fill="#3a3a3a" text-anchor="end" font-weight="normal" textLength="11.1" lengthAdjust="spacingAndGlyphs">0.0</text>
<line x1="326.22" y1="402.2" x2="326.22" y2="405.2" stroke="#333" stroke-width="0.9"/>
<line x1="359.03" y1="402.2" x2="359.03" y2="405.2" stroke="#333" stroke-width="0.9"/>
<text x="0" y="0" font-size="9.0" fill="#3a3a3a" text-anchor="middle" textLength="36.6" lengthAdjust="spacingAndGlyphs" transform="translate(282.00,348.8) rotate(-90)">% / all cells</text>
<rect x="418.5" y="294.5" width="72.25" height="9.30" fill="#d2d2d2" stroke="#1a1a1a" stroke-width="1.1"/>
<text x="454.62" y="301.4" font-size="6.6" fill="#1a1a1a" text-anchor="middle" font-weight="normal" textLength="45" lengthAdjust="spacingAndGlyphs">Memory B cells</text>
<rect x="418.5" y="303.8" width="72.25" height="98.40" fill="none" stroke="#1a1a1a" stroke-width="1.15"/>
<line x1="415.9" y1="328.46" x2="418.5" y2="328.46" stroke="#333" stroke-width="0.9"/>
<text x="412.5" y="331.36" font-size="8.5" fill="#3a3a3a" text-anchor="end" font-weight="normal">4</text>
<line x1="415.9" y1="361.48" x2="418.5" y2="361.48" stroke="#333" stroke-width="0.9"/>
<text x="412.5" y="364.38" font-size="8.5" fill="#3a3a3a" text-anchor="end" font-weight="normal">2</text>
<line x1="415.9" y1="394.50" x2="418.5" y2="394.50" stroke="#333" stroke-width="0.9"/>
<text x="412.5" y="397.40" font-size="8.5" fill="#3a3a3a" text-anchor="end" font-weight="normal">0</text>
<line x1="438.22" y1="402.2" x2="438.22" y2="405.2" stroke="#333" stroke-width="0.9"/>
<line x1="471.03" y1="402.2" x2="471.03" y2="405.2" stroke="#333" stroke-width="0.9"/>
<text x="0" y="0" font-size="9.0" fill="#3a3a3a" text-anchor="middle" textLength="36.6" lengthAdjust="spacingAndGlyphs" transform="translate(402.00,348.8) rotate(-90)">% / all cells</text>
<line x1="95.5" y1="347.2" x2="95.5" y2="350.4" stroke="#333" stroke-width="0.8"/>
<rect x="83.30" y="350.40" width="24.40" height="10.30" fill="#cf0a22" stroke="#7a0b1d" stroke-width="0.7"/>
<line x1="83.30" y1="360.0" x2="107.70" y2="360.0" stroke="#7a0b1d" stroke-width="1.2"/>
<line x1="128.4" y1="358.9" x2="128.4" y2="372.9" stroke="#333" stroke-width="0.8"/>
<rect x="116.20" y="372.90" width="24.40" height="18.70" fill="#1a4f94" stroke="#0c2a4f" stroke-width="0.7"/>
<line x1="116.20" y1="389.0" x2="140.60" y2="389.0" stroke="#0c2a4f" stroke-width="1.2"/>
<line x1="207.6" y1="350.3" x2="207.6" y2="353.4" stroke="#333" stroke-width="0.8"/>
<line x1="207.6" y1="376.3" x2="207.6" y2="387.0" stroke="#333" stroke-width="0.8"/>
<rect x="195.20" y="353.40" width="24.80" height="22.90" fill="#cf0a22" stroke="#7a0b1d" stroke-width="0.7"/>
<line x1="195.20" y1="368.0" x2="220.00" y2="368.0" stroke="#7a0b1d" stroke-width="1.2"/>
<line x1="240.6" y1="379.8" x2="240.6" y2="382.9" stroke="#333" stroke-width="0.8"/>
<line x1="240.6" y1="391.2" x2="240.6" y2="392.0" stroke="#333" stroke-width="0.8"/>
<rect x="228.20" y="382.90" width="24.80" height="8.30" fill="#1a4f94" stroke="#0c2a4f" stroke-width="0.7"/>
<line x1="228.20" y1="387.0" x2="253.00" y2="387.0" stroke="#0c2a4f" stroke-width="1.2"/>
<line x1="326.3" y1="315.3" x2="326.3" y2="334.1" stroke="#333" stroke-width="0.8"/>
<line x1="326.3" y1="355.6" x2="326.3" y2="359.3" stroke="#333" stroke-width="0.8"/>
<rect x="314.10" y="334.10" width="24.40" height="21.50" fill="#cf0a22" stroke="#7a0b1d" stroke-width="0.7"/>
<line x1="314.10" y1="348.3" x2="338.50" y2="348.3" stroke="#7a0b1d" stroke-width="1.2"/>
<line x1="359.4" y1="375.6" x2="359.4" y2="380.5" stroke="#333" stroke-width="0.8"/>
<line x1="359.4" y1="391.7" x2="359.4" y2="393.5" stroke="#333" stroke-width="0.8"/>
<rect x="347.20" y="380.50" width="24.40" height="11.20" fill="#1a4f94" stroke="#0c2a4f" stroke-width="0.7"/>
<line x1="347.20" y1="387.0" x2="371.60" y2="387.0" stroke="#0c2a4f" stroke-width="1.2"/>
<line x1="438.3" y1="369.0" x2="438.3" y2="370.7" stroke="#333" stroke-width="0.8"/>
<line x1="438.3" y1="380.0" x2="438.3" y2="386.6" stroke="#333" stroke-width="0.8"/>
<rect x="425.90" y="370.70" width="24.80" height="9.30" fill="#cf0a22" stroke="#7a0b1d" stroke-width="0.7"/>
<line x1="425.90" y1="376.0" x2="450.70" y2="376.0" stroke="#7a0b1d" stroke-width="1.2"/>
<line x1="471.3" y1="378.5" x2="471.3" y2="387.0" stroke="#333" stroke-width="0.8"/>
<line x1="471.3" y1="393.2" x2="471.3" y2="394.2" stroke="#333" stroke-width="0.8"/>
<rect x="458.90" y="387.00" width="24.80" height="6.20" fill="#1a4f94" stroke="#0c2a4f" stroke-width="0.7"/>
<line x1="458.90" y1="390.5" x2="483.70" y2="390.5" stroke="#0c2a4f" stroke-width="1.2"/>
<path d="M95.4,314.40000000000003 V312.3 H128.6 V314.40000000000003" fill="none" stroke="#222" stroke-width="0.8"/>
<circle cx="112.00" cy="308.10" r="0.95" fill="#1a1a1a"/>
<path d="M207.5,314.6 V312.5 H240.6 V314.6" fill="none" stroke="#222" stroke-width="0.8"/>
<circle cx="224.05" cy="308.30" r="0.95" fill="#1a1a1a"/>
<path d="M326.3,314.40000000000003 V312.3 H359.2 V314.40000000000003" fill="none" stroke="#222" stroke-width="0.8"/>
<circle cx="340.65" cy="308.10" r="0.95" fill="#1a1a1a"/>
<circle cx="344.85" cy="308.10" r="0.95" fill="#1a1a1a"/>
<path d="M437.6,313.90000000000003 V311.8 H471.5 V313.90000000000003" fill="none" stroke="#222" stroke-width="0.8"/>
<circle cx="452.45" cy="307.60" r="0.95" fill="#1a1a1a"/>
<circle cx="456.65" cy="307.60" r="0.95" fill="#1a1a1a"/>
<circle cx="93.5" cy="315.6" r="1.1" fill="none" stroke="#333" stroke-width="0.6"/>
<circle cx="92.3" cy="346.8" r="1.1" fill="none" stroke="#333" stroke-width="0.6"/>
<g opacity="0.45">
<path d="M94.7,356.5 H96.89999999999999 M95.8,355.4 V357.6 M95.03,355.73 L96.57,357.27 M95.03,357.27 L96.57,355.73" stroke="#222" stroke-width="0.6"/>
</g>
<circle cx="95.0" cy="360.2" r="1.04" fill="#111"/>
<path d="M98.0,358.96999999999997 L99.43,360.4 L98.0,361.83 L96.57,360.4 Z" fill="none" stroke="#333" stroke-width="0.6"/>
<circle cx="93.1" cy="384.5" r="1.1" fill="none" stroke="#333" stroke-width="0.6"/>
<path d="M126.3,359.42 L127.50999999999999,357.22 L125.09,357.22 Z" fill="none" stroke="#333" stroke-width="0.6"/>
<rect x="130.56" y="365.87" width="1.87" height="1.87" fill="#111"/>
<g opacity="0.45">
<circle cx="126.0" cy="378.9" r="1.04" fill="#111"/>
</g>
<circle cx="127.0" cy="393.5" r="1.04" fill="#111"/>
<rect x="130.56" y="392.06" width="1.87" height="1.87" fill="#111"/>
<circle cx="208.1" cy="316.0" r="1.1" fill="none" stroke="#333" stroke-width="0.6"/>
<circle cx="208.0" cy="350.3" r="1.04" fill="#111"/>
<g opacity="0.45">
<path d="M207.5,360.0 H209.7 M208.6,358.9 V361.1 M207.82999999999998,359.23 L209.37,360.77 M207.82999999999998,360.77 L209.37,359.23" stroke="#222" stroke-width="0.6"/>
</g>
<path d="M210.0,375.07 L211.43,376.5 L210.0,377.93 L208.57,376.5 Z" fill="none" stroke="#333" stroke-width="0.6"/>
<circle cx="208.0" cy="387.0" r="1.1" fill="none" stroke="#333" stroke-width="0.6"/>
<circle cx="242.0" cy="361.5" r="1.04" fill="#111"/>
<circle cx="240.4" cy="380.0" r="1.04" fill="#111"/>
<circle cx="237.0" cy="391.5" r="1.04" fill="#111"/>
<circle cx="243.0" cy="392.5" r="1.1" fill="none" stroke="#333" stroke-width="0.6"/>
<circle cx="327.8" cy="315.8" r="1.1" fill="none" stroke="#333" stroke-width="0.6"/>
<circle cx="326.8" cy="330.5" r="1.1" fill="none" stroke="#333" stroke-width="0.6"/>
<g opacity="0.45">
<circle cx="323.0" cy="343.9" r="1.04" fill="#111"/>
</g>
<g opacity="0.45">
<circle cx="327.0" cy="352.7" r="1.04" fill="#111"/>
</g>
<circle cx="323.0" cy="358.5" r="1.1" fill="none" stroke="#333" stroke-width="0.6"/>
<path d="M326.5,355.57 L327.93,357.0 L326.5,358.43 L325.07,357.0 Z" fill="none" stroke="#333" stroke-width="0.6"/>
<path d="M359.3,348.12 L360.51,345.92 L358.09000000000003,345.92 Z" fill="none" stroke="#333" stroke-width="0.6"/>
<circle cx="360.5" cy="375.6" r="1.04" fill="#111"/>
<rect x="358.56" y="375.56" width="1.87" height="1.87" fill="#111"/>
<g opacity="0.45">
<circle cx="358.0" cy="384.6" r="1.04" fill="#111"/>
</g>
<circle cx="359.5" cy="393.9" r="1.04" fill="#111"/>
<circle cx="437.0" cy="315.9" r="1.1" fill="none" stroke="#333" stroke-width="0.6"/>
<circle cx="438.2" cy="369.3" r="1.04" fill="#111"/>
<g opacity="0.45">
<path d="M436.9,374.0 H439.1 M438.0,372.9 V375.1 M437.23,373.23 L438.77,374.77 M437.23,374.77 L438.77,373.23" stroke="#222" stroke-width="0.6"/>
</g>
<g opacity="0.45">
<circle cx="439.5" cy="377.0" r="1.1" fill="none" stroke="#333" stroke-width="0.6"/>
</g>
<circle cx="438.2" cy="386.6" r="1.1" fill="none" stroke="#333" stroke-width="0.6"/>
<circle cx="471.1" cy="378.5" r="1.04" fill="#111"/>
<rect x="471.06" y="386.56" width="1.87" height="1.87" fill="#111"/>
<circle cx="470.5" cy="394.2" r="1.1" fill="none" stroke="#333" stroke-width="0.6"/>
<g opacity="0.45">
<circle cx="473.5" cy="390.0" r="1.04" fill="#111"/>
</g>
<text x="114.6" y="422.1" font-size="7.9" fill="#333" text-anchor="start" font-weight="normal" textLength="33.2" lengthAdjust="spacingAndGlyphs">Condition</text>
<line x1="162.3" y1="414.8" x2="162.3" y2="424.6" stroke="#7a0b1d" stroke-width="0.8"/>
<rect x="156.8" y="416.6" width="11.0" height="5.7" fill="#cf0a22" stroke="#7a0b1d" stroke-width="0.5"/>
<line x1="162.3" y1="416.6" x2="162.3" y2="422.3" stroke="#7a0b1d" stroke-width="0.5"/>
<text x="171.0" y="422.1" font-size="7.9" fill="#333" text-anchor="start" font-weight="normal" textLength="28.5" lengthAdjust="spacingAndGlyphs">Controls</text>
<line x1="214.35000000000002" y1="414.8" x2="214.35000000000002" y2="424.6" stroke="#0c2a4f" stroke-width="0.8"/>
<rect x="208.8" y="416.6" width="11.099999999999994" height="5.7" fill="#1a4f94" stroke="#0c2a4f" stroke-width="0.5"/>
<line x1="214.35000000000002" y1="416.6" x2="214.35000000000002" y2="422.3" stroke="#0c2a4f" stroke-width="0.5"/>
<text x="223.0" y="422.1" font-size="7.9" fill="#333" text-anchor="start" font-weight="normal" textLength="30" lengthAdjust="spacingAndGlyphs">DOCK11</text>
<circle cx="264.2" cy="419.4" r="2.05" fill="none" stroke="#333" stroke-width="0.8"/>
<text x="269.5" y="422.1" font-size="7.9" fill="#333" text-anchor="start" font-weight="normal" textLength="14.3" lengthAdjust="spacingAndGlyphs">CTL</text>
<circle cx="295.2" cy="419.5" r="2.1" fill="#111"/>
<text x="300.0" y="422.1" font-size="7.9" fill="#333" text-anchor="start" font-weight="normal">B</text>
<path d="M314.3,419.4 H319.3 M316.8,416.9 V421.9 M315.0,417.6 L318.6,421.2 M315.0,421.2 L318.6,417.6" stroke="#222" stroke-width="0.8"/>
<text x="323.8" y="422.1" font-size="7.9" fill="#333" text-anchor="start" font-weight="normal" textLength="9.5" lengthAdjust="spacingAndGlyphs">D1</text>
<path d="M343.4,417.3 H347.4 L345.4,421.9 Z" fill="none" stroke="#333" stroke-width="0.75"/>
<text x="350.0" y="422.1" font-size="7.9" fill="#333" text-anchor="start" font-weight="normal">F</text>
<rect x="364.3" y="417.5" width="4.3" height="4.3" fill="#111"/>
<text x="371.3" y="422.1" font-size="7.9" fill="#333" text-anchor="start" font-weight="normal">A</text>
<path d="M388.4,417.3 L390.6,421.8 H386.2 Z" fill="#111"/>
<text x="393.8" y="422.1" font-size="7.9" fill="#333" text-anchor="start" font-weight="normal">C</text>
<rect x="408.4" y="417.2" width="4.3" height="4.3" fill="none" stroke="#222" stroke-width="0.75"/><path d="M408.4,417.2 L412.7,421.5 M408.4,421.5 L412.7,417.2" stroke="#222" stroke-width="0.6"/>
<text x="415.0" y="422.1" font-size="7.9" fill="#333" text-anchor="start" font-weight="normal" textLength="10.7" lengthAdjust="spacingAndGlyphs">D2</text>
<path d="M438.5,416.3 L441.8,419.6 L438.5,422.9 L435.2,419.6 Z" fill="none" stroke="#333" stroke-width="0.75"/>
<text x="444.5" y="422.1" font-size="7.9" fill="#333" text-anchor="start" font-weight="normal">G</text>
<rect x="0.5" y="0.5" width="519" height="430" fill="none" stroke="#5a5a5a" stroke-width="1"/>
</svg>
</body></html>
